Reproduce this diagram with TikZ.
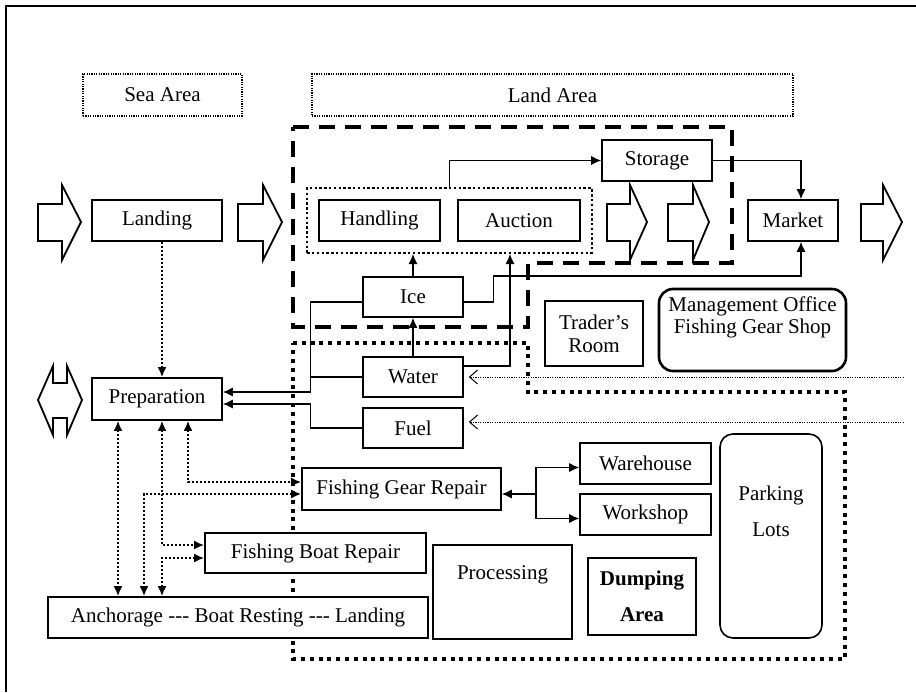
\documentclass[tikz,border=0pt]{standalone}
\usepackage{fontspec}
\setmainfont{Liberation Serif}
\usetikzlibrary{arrows.meta,fit}
\newcommand\tridash{\mbox{-}\mbox{-}\mbox{-}}

\begin{document}
\begin{tikzpicture}[x=0.5pt, y=-0.5pt,
    font=\fontsize{10.5pt}{12pt}\selectfont,
    >={Latex[length=5pt,width=4.5pt]}]
    \useasboundingbox (0,0) rectangle (916,692);
    \draw[line width=1pt] (6,692) -- (6,6) -- (916,6);

    \tikzset{Area/.style={draw, line width=0.6pt, dash pattern=on 0.6pt off 0.6pt,
        minimum height=21pt, inner sep=0pt}}
    \node[Area, minimum width=79.5pt]  (sea)  at (162.5,95) {Sea Area};
    \node[Area, minimum width=240.5pt] (land) at (552.5,95) {Land Area};

    % zones
    \draw[line width=2pt, dash pattern=on 8pt off 5pt]
        (293,127) -- (732,127) -- (732,263) -- (528,263) -- (528,327) -- (293,327) -- cycle;
    \draw[line width=2pt, dash pattern=on 2pt off 2.4pt]
        (293,343) -- (528,343) -- (528,392) -- (845,392) -- (845,659) -- (293,659) -- cycle;

    % block arrows
    \foreach \a/\b/\c in {38/62/81, 238/263/282, 607/630/647, 668/693/709, 861/883/902}
        \draw[line width=0.9pt, fill=white] (\a,204) -- (\b,204) -- (\b,185) -- (\c,222)
            -- (\b,260) -- (\b,241) -- (\a,241) -- cycle;
    \draw[line width=0.9pt, fill=white] (38,400) -- (53,366) -- (53,383) -- (67,383)
        -- (67,366) -- (82,400) -- (67,435) -- (67,418) -- (53,418) -- (53,435) -- cycle;

    \tikzset{Box/.style={draw, line width=0.8pt, fill=white, inner sep=0pt,
        minimum height=20.5pt, align=center}}
    \node[Box, minimum width=65pt]   (landing)  at (157,220.5)   {Landing};
    \node[Box, minimum width=60.5pt] (handling) at (379.5,220.5) {Handling};
    \node[Box, minimum width=61pt]   (auction)  at (519,220.5)   {Auction};
    \node[draw, line width=1.2pt, dash pattern=on 1.2pt off 1.2pt, inner sep=5.5pt,
        fit=(handling)(auction)] (auctiongroup) {};
    \node[Box, minimum width=55pt]   (storage)  at (657,160.5)   {Storage};
    \node[Box, minimum width=45pt]   (market)   at (793,220.5)   {Market};
    \node[Box, minimum width=50pt, minimum height=20pt] (ice)   at (413,297) {Ice};
    \node[Box, minimum width=50pt, minimum height=20pt] (water) at (413,377) {Water};
    \node[Box, minimum width=50pt, minimum height=20pt] (fuel)  at (413,428) {Fuel};
    \node[Box, minimum width=65pt, minimum height=21pt] (prep)  at (157,399) {Preparation};
    \node[Box, minimum width=49pt, minimum height=32.5pt] (trader) at (594,333.5) {Trader's\\[-0.5pt]Room};
    \node[Box, line width=1.3pt, rounded corners=7pt, minimum width=93.5pt, minimum height=41pt,
        label={[anchor=center, yshift=-15pt, align=center]north:Management Office\\[-1pt]Fishing Gear Shop}]
        (office) at (752.5,330) {};
    \node[Box, minimum width=99.5pt, minimum height=21pt] (fgr) at (401.5,489) {Fishing Gear Repair};
    \node[Box, minimum width=110.5pt, minimum height=20pt] (fbr) at (315.5,553) {Fishing Boat Repair};
    \node[Box, minimum width=190pt] (anchor) at (238,617.5) {Anchorage \tridash{} Boat Resting \tridash{} Landing};
    \node[Box, minimum width=65.5pt] (warehouse) at (645.5,463.5) {Warehouse};
    \node[Box, minimum width=65.5pt] (workshop)  at (645.5,514.5) {Workshop};
    \node[Box, minimum width=69.5pt, minimum height=47pt,
        label={[anchor=center, yshift=-15.5pt]north:Processing}] (processing) at (502.5,592) {};
    \node[Box, minimum width=54pt, minimum height=38.5pt,
        font=\fontsize{10.5pt}{12pt}\selectfont\bfseries] (dumping) at (642,596.5) {Dumping\\[6pt]Area};
    \node[Box, rounded corners=6.5pt, minimum width=51pt, minimum height=102pt,
        label={[anchor=center, yshift=-39pt, align=center]north:Parking\\[6pt]Lots}] (parking) at (771,536) {};

    \tikzset{Flow/.style={->, line width=0.6pt}}
    \draw[Flow] (auctiongroup.north) |- (storage.west);
    \draw[Flow] (storage.east) -| ([xshift=4pt]market.north);
    \draw[Flow] ([yshift=-2.5pt]ice.east) -- ++(30,0) -- ++(0,-26) -| ([xshift=4pt]market.south);
    \draw[Flow] (ice.north) -- (ice.north |- auctiongroup.south);
    \draw[Flow] (water.north) -- (ice.south);
    \draw[Flow] ([yshift=5.5pt]water.east) -| (auctiongroup.south -| 510,0);
    \draw[Flow] ([yshift=-2.5pt]ice.west) -- ++(-52,0) |- ([yshift=3.5pt]prep.east);
    \draw[line width=0.6pt] (water.west) -- ++(-52,0);
    \draw[Flow] (fuel.west) -- ++(-52,0) |- ([yshift=-2.5pt]prep.east);

    \coordinate (split) at (536,494);
    \draw[Flow] (split) -- (fgr.east |- split);
    \draw[Flow] (split) |- ([yshift=-2pt]warehouse.west);
    \draw[Flow] (split) |- ([yshift=-2pt]workshop.west);

    \tikzset{Service/.style={<->, line width=1pt, dash pattern=on 1pt off 1pt}}
    \draw[Service, ->] ([xshift=2.5pt]landing.south) -- ([xshift=2.5pt]prep.north);
    \draw[Service] ([xshift=-19.5pt]prep.south) -- ([xshift=-60pt]anchor.north);
    \draw[Service] ([xshift=2.5pt]prep.south) |- ([yshift=4pt]fbr.west);
    \draw[Service] ([yshift=-2.5pt]fbr.west) -| ([xshift=-38pt]anchor.north);
    \draw[Service] ([xshift=15.5pt]prep.south) |- ([yshift=3.5pt]fgr.west);
    \draw[Service] ([yshift=-2.5pt]fgr.west) -| ([xshift=-47pt]anchor.north);

    \tikzset{Supply/.style={-{Straight Barb[length=4pt,width=7pt]}, line width=0.5pt,
        dash pattern=on 0.6pt off 0.6pt, shorten >=2.5pt}}
    \draw[Supply] (water.east) ++(440,0) -- (water.east);
    \draw[Supply] ([yshift=3pt]fuel.east) ++(440,0) -- ([yshift=3pt]fuel.east);
\end{tikzpicture}
\end{document}
